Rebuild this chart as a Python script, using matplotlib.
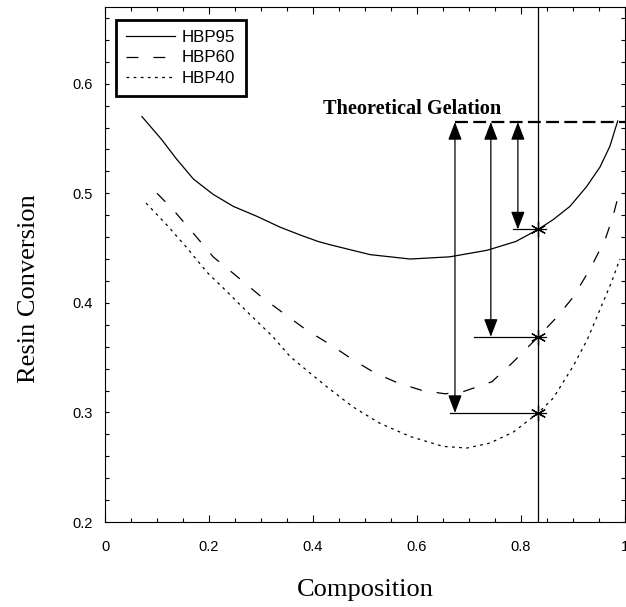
import matplotlib
matplotlib.use("Agg")
import matplotlib.pyplot as plt
from matplotlib.ticker import MultipleLocator, FuncFormatter

# Data
hbp95_x = [0.071, 0.109, 0.138, 0.170, 0.208, 0.247, 0.292, 0.337, 0.375, 0.410,
           0.433, 0.51, 0.587, 0.663, 0.735, 0.79, 0.833, 0.862, 0.894, 0.926,
           0.952, 0.971, 0.986]
hbp95_y = [0.570, 0.549, 0.531, 0.513, 0.499, 0.488, 0.479, 0.469, 0.462, 0.456,
           0.453, 0.444, 0.440, 0.442, 0.448, 0.456, 0.467, 0.476, 0.488, 0.506,
           0.524, 0.543, 0.566]

hbp60_x = [0.10, 0.131, 0.169, 0.208, 0.254, 0.302, 0.342, 0.388, 0.433, 0.477,
           0.519, 0.563, 0.610, 0.654, 0.689, 0.744, 0.785, 0.833, 0.869, 0.900,
           0.933, 0.962, 0.977, 0.99]
hbp60_y = [0.500, 0.485, 0.464, 0.442, 0.424, 0.405, 0.391, 0.375, 0.362, 0.348,
           0.336, 0.327, 0.320, 0.317, 0.319, 0.328, 0.346, 0.369, 0.387, 0.405,
           0.431, 0.458, 0.479, 0.503]

hbp40_x = [0.079, 0.119, 0.158, 0.196, 0.235, 0.273, 0.323, 0.356, 0.394, 0.433,
           0.477, 0.529, 0.587, 0.650, 0.696, 0.740, 0.785, 0.833, 0.862, 0.900,
           0.927, 0.952, 0.975, 0.99]
hbp40_y = [0.491, 0.471, 0.450, 0.428, 0.410, 0.392, 0.369, 0.351, 0.336, 0.321,
           0.305, 0.290, 0.278, 0.269, 0.2675, 0.272, 0.282, 0.2995, 0.313, 0.342,
           0.366, 0.394, 0.420, 0.440]

# Gelation point and conversions at it
gel_comp = 0.833
gel_conv = 0.565
conv_at_gel = [0.467, 0.369, 0.2995]
arrow_x = [0.794, 0.742, 0.673]
hline_start = [0.785, 0.710, 0.663]

sans = "Liberation Sans"
serif = "Liberation Serif"

fig = plt.figure(figsize=(6.26, 6.07), dpi=100)
ax = fig.add_axes([105 / 626, 85 / 607, 520 / 626, 515 / 607])

ax.plot(hbp95_x, hbp95_y, color="black", lw=0.9, label="HBP95")
ax.plot(hbp60_x, hbp60_y, color="black", lw=0.9, dashes=(9.5, 12), label="HBP60")
ax.plot(hbp40_x, hbp40_y, color="black", lw=0.9, dashes=(2.2, 3.5), label="HBP40")

# vertical line at gelation composition
ax.axvline(gel_comp, color="black", lw=0.9)

# theoretical gelation line
ax.plot([arrow_x[-1], 1.0], [gel_conv, gel_conv], color="black", lw=1.6,
        dashes=(5.8, 2.4))
ax.text(0.419, 0.572, "Theoretical Gelation", family=serif, fontweight="bold",
        fontsize=14.6, ha="left", va="baseline")

for ax_x, hs, cy in zip(arrow_x, hline_start, conv_at_gel):
    ax.annotate("", xy=(ax_x, cy), xytext=(ax_x, gel_conv),
                arrowprops=dict(arrowstyle="<|-|>,head_length=1.1,head_width=0.42",
                                color="black", lw=0.9, shrinkA=0, shrinkB=0))
    ax.plot([hs, 0.848], [cy, cy], color="black", lw=0.9)
    ax.plot(gel_comp, cy, marker=(6, 2, 0), color="black", markersize=11,
            markeredgewidth=0.9)

ax.set_xlim(0, 1)
ax.set_ylim(0.2, 0.67)
ax.xaxis.set_major_locator(MultipleLocator(0.2))
ax.xaxis.set_minor_locator(MultipleLocator(0.05))
ax.yaxis.set_major_locator(MultipleLocator(0.1))
ax.yaxis.set_minor_locator(MultipleLocator(0.02))
ax.xaxis.set_major_formatter(FuncFormatter(lambda v, p: f"{v:g}"))
ax.yaxis.set_major_formatter(FuncFormatter(lambda v, p: f"{v:g}"))

ax.tick_params(axis="both", which="both", direction="in", top=True, right=True,
               width=0.8)
ax.tick_params(axis="x", which="major", length=5, pad=13)
ax.tick_params(axis="x", which="minor", length=3)
ax.tick_params(axis="y", which="both", length=3, pad=8.5)
for lab in ax.get_xticklabels() + ax.get_yticklabels():
    lab.set_family(sans)
    lab.set_fontsize(10.5)
for s in ax.spines.values():
    s.set_linewidth(0.8)

ax.set_xlabel("Composition", family=serif, fontsize=19, labelpad=18)
ax.set_ylabel("Resin Conversion", family=serif, fontsize=19)
ax.yaxis.set_label_coords(-0.125, 0.454)

leg = ax.legend(loc="upper left", bbox_to_anchor=(0.021, 0.975), borderaxespad=0,
                prop={"family": sans, "size": 12.2}, handlelength=2.9,
                handletextpad=0.4, fancybox=False, edgecolor="black",
                framealpha=1, labelspacing=0.32, borderpad=0.6)
leg.get_frame().set_linewidth(2)

fig.savefig("out.png", dpi=100)
